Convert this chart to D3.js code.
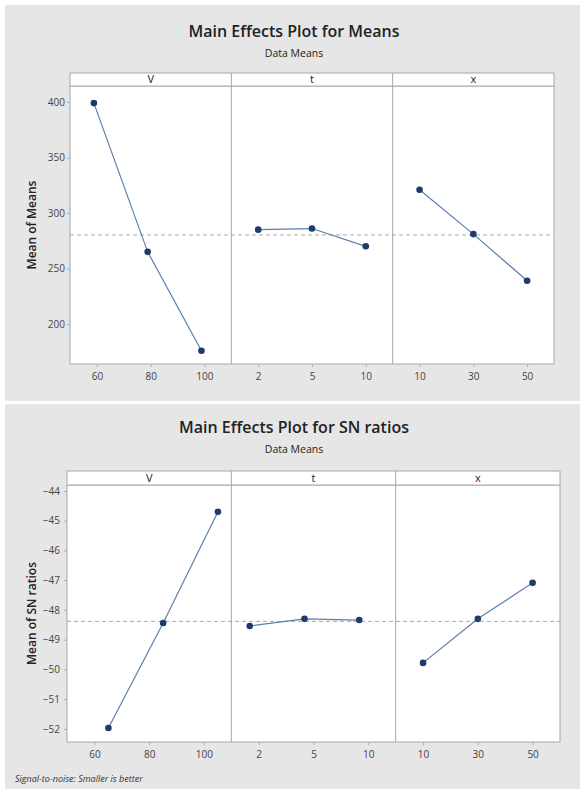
<!DOCTYPE html>
<html>
<head>
<meta charset="utf-8">
<script src="https://cdn.jsdelivr.net/npm/d3@7/dist/d3.min.js"></script>
<style>
body { margin: 0; background: #fff; }
text { font-family: "Open Sans", "Noto Sans", sans-serif; }
</style>
</head>
<body>
<div id="chart"></div>
<script>
"use strict";

// factors and their levels
var factors = ['V', 't', 'x'];
var levelsV = ['60', '80', '100'];
var levelsT = ['2', '5', '10'];
var levelsX = ['10', '30', '50'];

// mean of means, per factor level
var meansV = [399, 265, 176];
var meansT = [285, 286, 270];
var meansX = [321, 281, 239];
var meansTicks = [200, 250, 300, 350, 400];

// mean of SN ratios, per factor level
var snV = [-51.97, -48.44, -44.70];
var snT = [-48.54, -48.30, -48.34];
var snX = [-49.78, -48.30, -47.09];
var snTicks = [-52, -51, -50, -49, -48, -47, -46, -45, -44];

var W = 580, H = 789;

var svg = d3.select('#chart').append('svg')
	.attr('width', W)
	.attr('height', H);

function drawMainEffects(svg, cfg)
{
	var g = svg.append('g');
	var levels = [levelsV, levelsT, levelsX];

	g.append('rect')
		.attr('x', cfg.bg[0]).attr('y', cfg.bg[1])
		.attr('width', cfg.bg[2] - cfg.bg[0]).attr('height', cfg.bg[3] - cfg.bg[1])
		.attr('fill', '#e6e6e6');

	g.append('text')
		.attr('x', 294).attr('y', cfg.titleY)
		.attr('text-anchor', 'middle')
		.attr('font-size', 16).attr('font-weight', 600).attr('fill', '#222')
		.text(cfg.title);
	g.append('text')
		.attr('x', 294).attr('y', cfg.titleY + 20)
		.attr('text-anchor', 'middle')
		.attr('font-size', 10.5).attr('fill', '#222')
		.text('Data Means');

	var y = d3.scaleLinear().domain(cfg.yDomain).range([cfg.bottom, cfg.top]);
	var panelW = (cfg.right - cfg.left) / 3;
	var grand = d3.mean(d3.merge(cfg.series));

	// plot area and strip
	g.append('rect')
		.attr('x', cfg.left).attr('y', cfg.top)
		.attr('width', cfg.right - cfg.left).attr('height', cfg.bottom - cfg.top)
		.attr('fill', '#fff').attr('stroke', '#a8a8a8');
	g.append('rect')
		.attr('x', cfg.left).attr('y', cfg.stripTop)
		.attr('width', cfg.right - cfg.left).attr('height', cfg.top - cfg.stripTop)
		.attr('fill', '#fff').attr('stroke', '#a8a8a8');

	// grand mean reference
	g.append('line')
		.attr('x1', cfg.left).attr('x2', cfg.right)
		.attr('y1', y(grand)).attr('y2', y(grand))
		.attr('stroke', '#a9a9a9').attr('stroke-dasharray', '4,3');

	factors.forEach(function(f, i) {
		var x0 = cfg.left + i * panelW;
		var x = d3.scalePoint().domain(levels[i]).range([x0, x0 + panelW]).padding(0.5);
		var shift = cfg.markShift[i];

		if (i > 0) {
			g.append('line')
				.attr('x1', x0).attr('x2', x0)
				.attr('y1', cfg.stripTop).attr('y2', cfg.bottom)
				.attr('stroke', '#a8a8a8');
		}

		g.append('text')
			.attr('x', x0 + panelW / 2).attr('y', (cfg.stripTop + cfg.top) / 2)
			.attr('dy', '0.35em').attr('text-anchor', 'middle')
			.attr('font-size', 11).attr('fill', '#222')
			.text(f);

		var ax = g.append('g')
			.attr('transform', 'translate(0,' + cfg.bottom + ')')
			.call(d3.axisBottom(x).tickSize(3).tickPadding(6));
		ax.select('.domain').remove();
		ax.selectAll('line').attr('stroke', '#b0b0b0');
		ax.selectAll('text').attr('font-size', 10).attr('fill', '#444')
			.attr('font-family', '"Open Sans", sans-serif');

		var pts = levels[i].map(function(l, j) {
			return { lvl: l, v: cfg.series[i][j] };
		});

		g.append('path')
			.datum(pts)
			.attr('fill', 'none')
			.attr('stroke', '#5b7fb0')
			.attr('stroke-width', 1.2)
			.attr('d', d3.line()
				.x(function(d) { return x(d.lvl) + shift; })
				.y(function(d) { return y(d.v); }));

		g.selectAll(null)
			.data(pts)
			.enter().append('circle')
			.attr('cx', function(d) { return x(d.lvl) + shift; })
			.attr('cy', function(d) { return y(d.v); })
			.attr('r', 3.3)
			.attr('fill', '#1d3a6b');
	});

	var ay = g.append('g')
		.attr('transform', 'translate(' + cfg.left + ',0)')
		.call(d3.axisLeft(y).tickValues(cfg.ticks).tickSize(3).tickPadding(cfg.yPad));
	ay.select('.domain').remove();
	ay.selectAll('line').attr('stroke', '#b0b0b0');
	ay.selectAll('text').attr('font-size', 10).attr('fill', '#444')
		.attr('font-family', '"Open Sans", sans-serif');

	g.append('text')
		.attr('transform', 'translate(32,' + ((cfg.top + cfg.bottom) / 2) + ') rotate(-90)')
		.attr('dy', '0.35em').attr('text-anchor', 'middle')
		.attr('font-size', 12).attr('font-weight', 600).attr('fill', '#222')
		.text(cfg.yLabel);
}

drawMainEffects(svg, {
	bg: [5, 5, W, 401],
	title: 'Main Effects Plot for Means',
	titleY: 37,
	stripTop: 73, top: 86, bottom: 364, left: 70, right: 554,
	yDomain: [164, 414.4],
	ticks: meansTicks,
	yPad: 2,
	yLabel: 'Mean of Means',
	series: [meansV, meansT, meansX],
	markShift: [-3, 0, 0]
});

drawMainEffects(svg, {
	bg: [5, 404, W, H],
	title: 'Main Effects Plot for SN ratios',
	titleY: 433,
	stripTop: 471, top: 485, bottom: 742, left: 67, right: 560,
	yDomain: [-52.44, -43.8],
	ticks: snTicks,
	yPad: 4,
	yLabel: 'Mean of SN ratios',
	series: [snV, snT, snX],
	markShift: [14, -9, 0]
});

svg.append('text')
	.attr('x', 15).attr('y', 782)
	.attr('font-size', 9).attr('font-style', 'italic').attr('fill', '#333')
	.text('Signal-to-noise: Smaller is better');
</script>
</body>
</html>
